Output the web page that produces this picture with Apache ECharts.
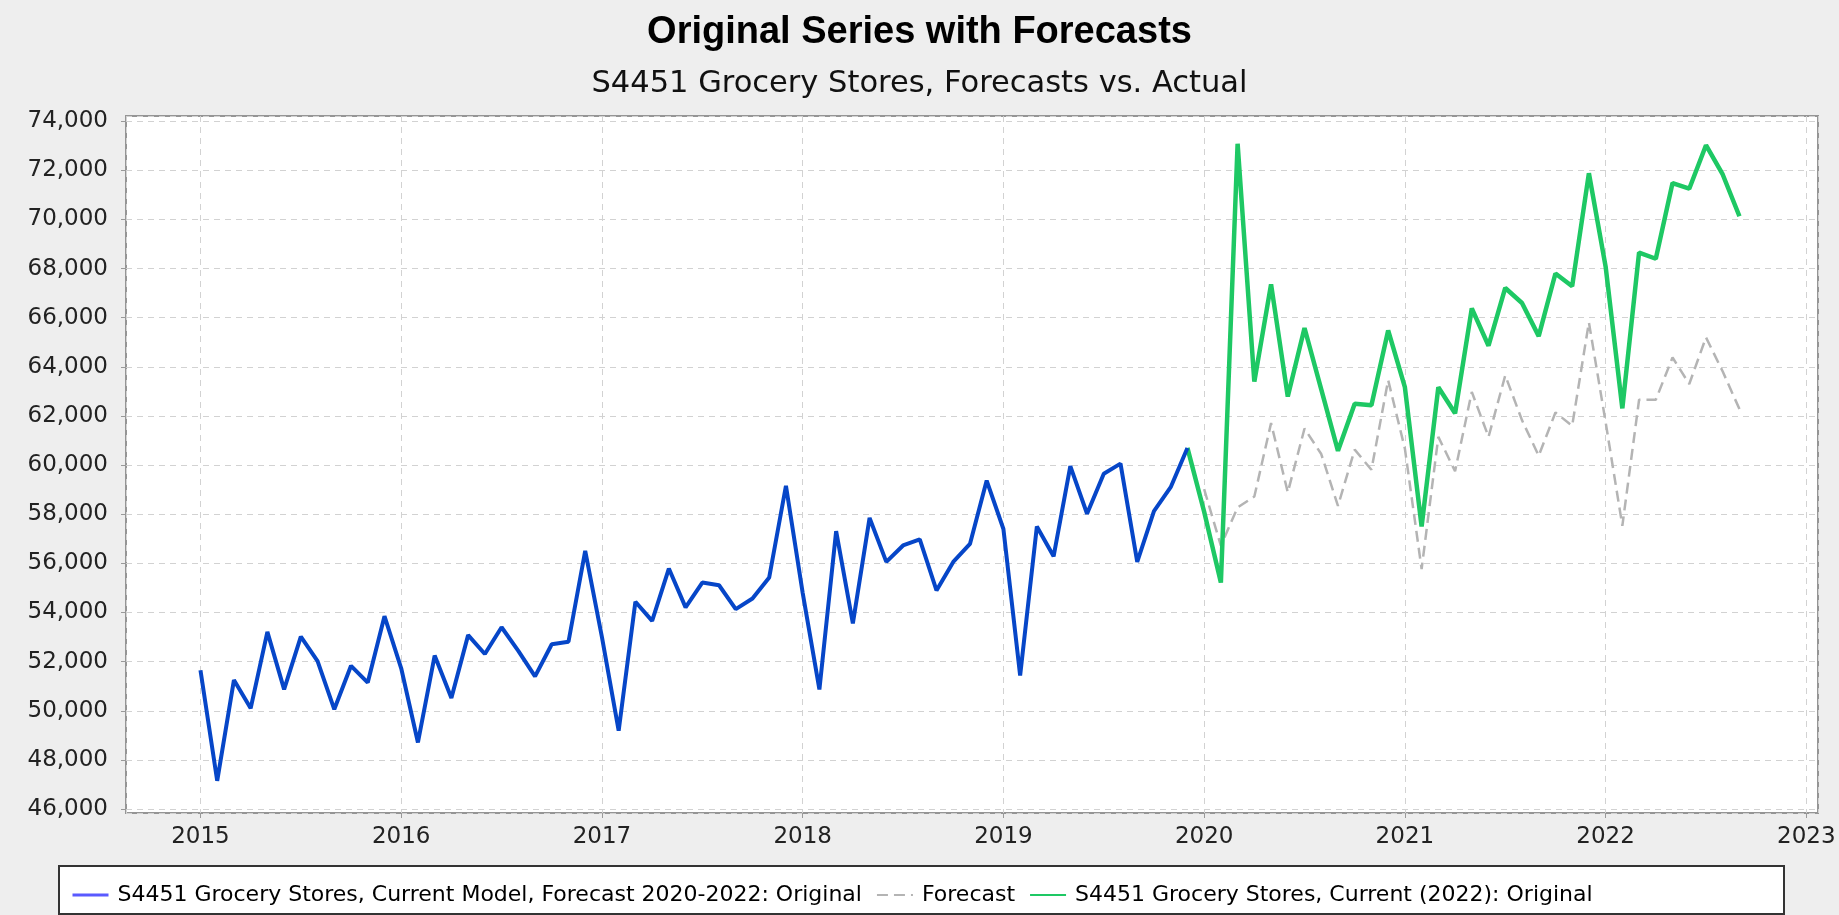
<!DOCTYPE html>
<html>
<head>
<meta charset="utf-8">
<title>Original Series with Forecasts</title>
<script src="https://cdn.jsdelivr.net/npm/echarts@6/dist/echarts.min.js"></script>
<style>
  html, body { margin: 0; padding: 0; background: #eeeeee; }
  #main { width: 1839px; height: 915px; }
</style>
</head>
<body>
<div id="main"></div>
<script>
// 月度数据 (千美元)
var blueName = 'S4451 Grocery Stores, Current Model, Forecast 2020-2022: Original';
var greenName = 'S4451 Grocery Stores, Current (2022): Original';
var forecastName = 'Forecast';

// Jan 2015 - Dec 2019
var blueStart = '2015-01';
var blueValues = [
  51650, 47150, 51250, 50100, 53210, 50870, 53020, 52020, 50060, 51830, 51150, 53850,
  51730, 48710, 52250, 50520, 53080, 52310, 53400, 52440, 51400, 52710, 52810, 56510,
  53000, 49190, 54440, 53660, 55790, 54210, 55220, 55110, 54140, 54570, 55430, 59160,
  54800, 50870, 57310, 53560, 57850, 56060, 56730, 56980, 54900, 56060, 56790, 59370,
  57400, 51440, 57500, 56290, 59960, 58020, 59650, 60060, 56060, 58130, 59100, 60700
];

// Dec 2019 - Sep 2022
var greenStart = '2019-12';
var greenValues = [
  60700,
  58100, 55220, 73080, 63400, 67360, 62790, 65580, 63080, 60580, 62500, 62440, 65480,
  63170, 57500, 63170, 62110, 66380, 64860, 67210, 66600, 65250, 67800, 67280, 71880,
  68080, 62310, 68650, 68400, 71480, 71250, 73020, 71830, 70130
];

// Jan 2020 - Sep 2022
var forecastStart = '2020-01';
var forecastValues = [
  59020, 56720, 58280, 58720, 61710, 58890, 61490, 60450, 58340, 60630, 59810, 63460,
  60670, 55770, 61150, 59750, 62980, 61150, 63650, 61830, 60380, 62140, 61600, 65810,
  61750, 57530, 62660, 62660, 64380, 63300, 65200, 63810, 62280
];

var yearTicks = [2015, 2016, 2017, 2018, 2019, 2020, 2021, 2022, 2023];

// '2015-01' + 数组 -> [小数年份, 值]
function toPoints(start, values) {
  var y = parseInt(start.split('-')[0]);
  var m = parseInt(start.split('-')[1]) - 1;
  return values.map(function (v, i) {
    var k = m + i;
    return [y + Math.floor(k / 12) + (k % 12) / 12, v];
  });
}

var myChart = echarts.init(document.getElementById('main'));

var option = {
  backgroundColor: '#eeeeee',
  animation: false,
  title: [
    {
      text: 'Original Series with Forecasts',
      left: 'center',
      top: 9,
      textStyle: { fontFamily: 'Liberation Sans', fontWeight: 'bold', fontSize: 38, color: '#000' }
    },
    {
      text: 'S4451 Grocery Stores, Forecasts vs. Actual',
      left: 'center',
      top: 64,
      textStyle: { fontFamily: 'DejaVu Sans', fontWeight: 'normal', fontSize: 30.5, color: '#111' }
    }
  ],
  graphic: [
    {
      type: 'rect',
      z: -1,
      shape: { x: 59, y: 866, width: 1725, height: 48 },
      style: { fill: '#fff', stroke: '#333', lineWidth: 2 }
    }
  ],
  legend: {
    left: 66,
    top: 879,
    itemWidth: 36,
    itemHeight: 14,
    itemGap: 14,
    itemStyle: { opacity: 0 },
    textStyle: { fontFamily: 'DejaVu Sans', fontSize: 22, color: '#000', padding: [0, 0, 0, 4] },
    data: [
      { name: blueName, itemStyle: { color: '#5a5aff', opacity: 0 }, lineStyle: { color: '#5a5aff', width: 3 } },
      { name: forecastName, itemStyle: { opacity: 0 } },
      { name: greenName, itemStyle: { opacity: 0 } }
    ]
  },
  grid: {
    show: true,
    left: 126,
    right: 21,
    top: 116,
    bottom: 102,
    backgroundColor: '#fff',
    borderColor: '#959595',
    borderWidth: 2
  },
  xAxis: {
    type: 'value',
    min: 2014.629,
    max: 2023.058,
    splitNumber: yearTicks.length - 1,
    axisLine: { show: false },
    axisTick: { show: true, length: 5, lineStyle: { color: '#999' } },
    axisLabel: {
      showMinLabel: false,
      showMaxLabel: false,
      margin: 13,
      fontFamily: 'DejaVu Sans',
      fontSize: 23,
      color: '#222',
      formatter: function (v) { return yearTicks.indexOf(v) >= 0 ? String(v) : ''; }
    },
    splitLine: { show: true, lineStyle: { color: '#d2d2d2', width: 1, type: [6, 5] } }
  },
  yAxis: {
    type: 'value',
    min: 45840,
    max: 74210,
    splitNumber: 14,
    axisLine: { show: false },
    axisTick: { show: true, length: 5, lineStyle: { color: '#999' } },
    axisLabel: {
      showMinLabel: false,
      showMaxLabel: false,
      margin: 18,
      fontFamily: 'DejaVu Sans',
      fontSize: 23,
      color: '#222'
    },
    splitLine: { show: true, lineStyle: { color: '#d2d2d2', width: 1, type: [6, 5] } }
  },
  series: [
    {
      name: forecastName,
      type: 'line',
      symbol: 'none',
      data: toPoints(forecastStart, forecastValues),
      itemStyle: { color: '#b4b4b4' },
      lineStyle: { color: '#b4b4b4', width: 2.5, type: [11, 6] }
    },
    {
      name: greenName,
      type: 'line',
      symbol: 'none',
      data: toPoints(greenStart, greenValues),
      itemStyle: { color: '#1ec864' },
      lineStyle: { color: '#1ec864', width: 4.5 }
    },
    {
      name: blueName,
      type: 'line',
      symbol: 'none',
      data: toPoints(blueStart, blueValues),
      itemStyle: { color: '#0646c8' },
      lineStyle: { color: '#0646c8', width: 4 }
    }
  ]
};

myChart.setOption(option);
</script>
</body>
</html>
